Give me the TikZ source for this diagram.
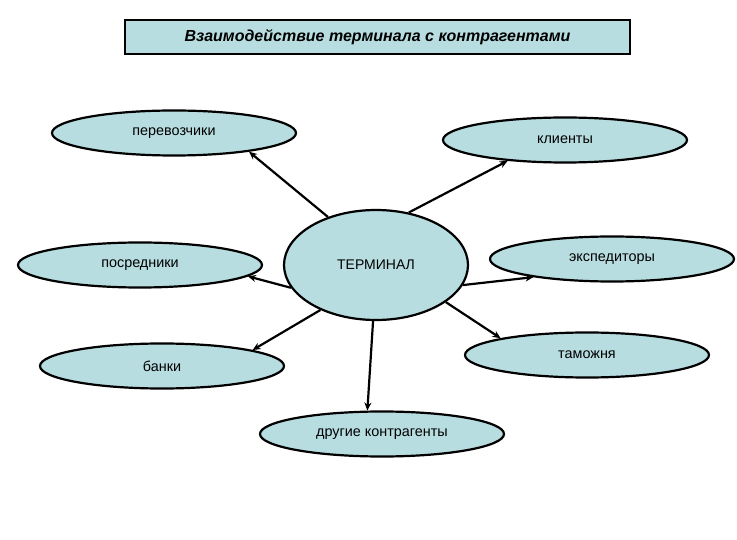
\documentclass[tikz,border=0pt]{standalone}
\usepackage{fontspec}
\setmainfont{Liberation Sans}
\usetikzlibrary{shapes.geometric,arrows.meta}
\definecolor{fillc}{RGB}{183,221,224}
\begin{document}
\begin{tikzpicture}[x=1pt,y=-1pt,
  oval/.style={ellipse,draw=black,line width=2.2pt,fill=fillc,inner sep=0pt,
    minimum width=244pt,minimum height=45pt,font=\fontsize{14.4}{16}\selectfont},
  link/.style={line width=2.2pt,-{Stealth[length=8pt,width=7pt]}}]
\useasboundingbox (0,0) rectangle (737,540);
\node[draw=black,line width=2.2pt,fill=fillc,minimum width=505pt,minimum height=34pt,inner sep=0pt,
  font=\fontsize{16}{18}\selectfont\bfseries\itshape] (title) at (377.5,37) {Взаимодействие терминала с контрагентами};
\node[oval] (perev) at (174,133) {перевозчики};
\node[oval] (klient) at (565,140) {клиенты};
\node[oval] (posr) at (140,265) {посредники};
\node[oval,minimum width=184pt,minimum height=110pt,font=\fontsize{14}{16}\selectfont] (term) at (376,265) {ТЕРМИНАЛ};
\node[oval] (eksp) at (612,259) {экспедиторы};
\node[oval] (tam) at (587,355) {таможня};
\node[oval] (bank) at (162,366) {банки};
\node[oval] (drug) at (382,434) {другие контрагенты};
\draw[link] (term.135) -- (perev.-14);
\draw[link] (term.58) -- (klient.200);
\draw[link] (term.195) -- (posr.-6);
\draw[link] (term.-13) -- (eksp.193);
\draw[link] (term.-28) -- (tam.169);
\draw[link] (term.219) -- (bank.10);
\draw[link] (term.267) -- (drug.122);
\end{tikzpicture}
\end{document}
